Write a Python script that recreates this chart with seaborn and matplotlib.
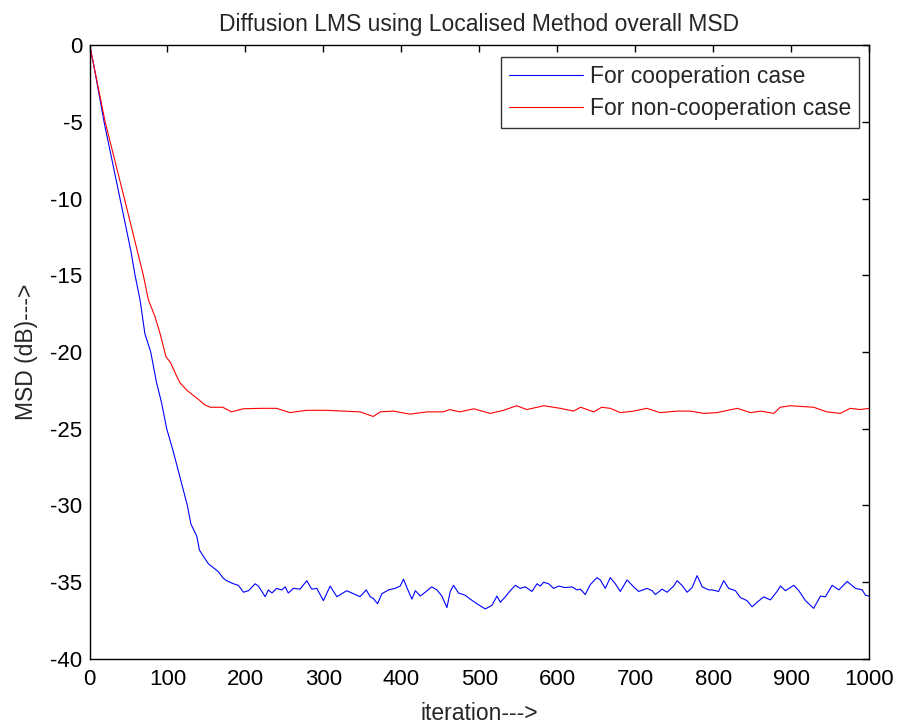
import numpy as np
import pandas as pd
import seaborn as sns
import matplotlib.pyplot as plt

# values (iteration, MSD in dB)
coop_iter = [0, 5, 18.6, 39, 52.8, 58.4, 64.8, 71, 78.5, 86, 92.6, 99, 107, 118, 125.5,
             130, 137.6, 141, 146, 152.5, 165, 171.8, 176, 184.6, 191, 197.4, 204, 212.5,
             216.7, 225.3, 229.5, 234, 240, 246.7, 251, 255, 261.6, 270, 278.8, 285, 291.6,
             300, 308.7, 317.3, 330, 338.6, 347, 355, 360, 364, 369.5, 375, 383.6, 392,
             398.6, 402.8, 408, 413.6, 418, 424.3, 430.7, 439, 445.7, 452, 458.5, 462.8,
             467, 473.4, 482, 488.4, 497, 507.7, 516.3, 522.7, 527, 533.4, 539.8, 546.2,
             552.6, 559, 567.6, 574, 578.3, 582.5, 589, 595.4, 601.8, 610.4, 619, 625.4,
             629.7, 636, 642.5, 651, 655.3, 661.7, 668, 674.6, 681, 689.6, 698, 704.5,
             715.3, 721.7, 726, 734.5, 741, 749.4, 753.8, 760, 766.6, 773, 779.5, 786,
             794.4, 798.7, 807, 813.6, 820, 828.6, 835, 843.6, 850, 856.5, 865, 873.5,
             882, 886.4, 892.8, 903.5, 910, 918.5, 929, 937.8, 944, 952.8, 961.3, 972,
             982.7, 991.3, 995.5, 1000]
coop_msd = [0, -1.2, -5, -10, -13.35, -15, -16.6, -18.8, -20, -22, -23.35, -25, -26.4, -28.55, -30,
            -31.2, -32, -32.9, -33.3, -33.8, -34.3, -34.75, -34.9, -35.1, -35.2, -35.65, -35.55, -35.1,
            -35.25, -35.94, -35.5, -35.7, -35.4, -35.5, -35.3, -35.7, -35.4, -35.45, -34.9, -35.45, -35.4,
            -36.2, -35.25, -35.94, -35.55, -35.75, -35.94, -35.5, -35.94, -36.05, -36.4, -35.75, -35.5, -35.4,
            -35.25, -34.8, -35.45, -36.1, -35.55, -35.9, -35.65, -35.3, -35.5, -35.9, -36.65, -35.6,
            -35.2, -35.7, -35.85, -36.1, -36.4, -36.74, -36.5, -35.9, -36.3, -35.95, -35.55, -35.2,
            -35.4, -35.3, -35.6, -35.1, -35.25, -35.0, -35.1, -35.4, -35.25, -35.35, -35.3, -35.5,
            -35.45, -35.8, -35.15, -34.7, -34.85, -35.4, -34.7, -35.1, -35.6, -34.85, -35.3, -35.6,
            -35.4, -35.55, -35.8, -35.45, -35.65, -35.25, -34.9, -35.2, -35.65, -35.35, -34.57, -35.3,
            -35.5, -35.5, -35.6, -34.9, -35.4, -35.55, -36.0, -36.2, -36.6, -36.3, -35.95, -36.15,
            -35.6, -35.25, -35.55, -35.2, -35.55, -36.2, -36.7, -35.9, -35.95, -35.2, -35.5, -34.95,
            -35.4, -35.5, -35.85, -35.9]

noncoop_iter = [0, 5, 20, 44.7, 61, 69, 75.5, 84, 90.5, 98, 104, 112, 116, 125, 140, 148, 155,
                171, 182, 197, 219, 240, 257, 278, 304, 347, 364, 373, 390, 411, 433, 454,
                462, 475, 493, 514, 531, 548, 561, 583, 604, 621, 630, 647, 657, 668, 681,
                698, 715, 732, 754, 771, 788, 805, 831, 848, 861, 878, 886, 899, 929, 946,
                963, 976, 989, 1000]
noncoop_msd = [0, -1.2, -5, -10, -13.35, -15, -16.6, -17.7, -18.8, -20.3, -20.7, -21.6, -22.0, -22.5,
               -23.1, -23.45, -23.6, -23.6, -23.9, -23.7, -23.67, -23.67, -23.95, -23.8, -23.8, -23.9,
               -24.2, -23.9, -23.85, -24.05, -23.9, -23.9, -23.75, -23.9, -23.7, -24.0, -23.8, -23.5,
               -23.75, -23.5, -23.67, -23.85, -23.6, -23.9, -23.6, -23.67, -23.95, -23.85, -23.67,
               -23.95, -23.85, -23.85, -24.0, -23.95, -23.67, -23.95, -23.85, -24.0, -23.6, -23.5,
               -23.6, -23.9, -24.0, -23.67, -23.75, -23.67]

labels = ['For cooperation case', 'For non-cooperation case']
title = 'Diffusion LMS using Localised Method overall MSD'
xlabel = 'iteration--->'
ylabel = 'MSD (dB)--->'
xticks = list(range(0, 1001, 100))
yticks = list(range(-40, 1, 5))

df = pd.concat([
    pd.DataFrame({'iter': coop_iter, 'msd': coop_msd, 'case': labels[0]}),
    pd.DataFrame({'iter': noncoop_iter, 'msd': noncoop_msd, 'case': labels[1]}),
])

sns.set_style('white')
plt.rcParams['font.family'] = ['Liberation Sans', 'DejaVu Sans']
plt.rcParams['axes.unicode_minus'] = False

fig = plt.figure(figsize=(8.98, 7.26), dpi=100)
ax = fig.add_axes([0.0997, 0.0923, 0.868, 0.8457])

sns.lineplot(data=df, x='iter', y='msd', hue='case', sort=False,
             palette={labels[0]: '#0000ff', labels[1]: '#ff0000'},
             linewidth=0.8, ax=ax)

ax.set_xlim(0, 1000)
ax.set_ylim(-40, 0)
ax.set_xticks(xticks)
ax.set_yticks(yticks)
ax.tick_params(direction='in', length=5, width=1, top=True, right=True,
               labelsize=16, colors='black')
ax.tick_params(axis='x', pad=7)
ax.tick_params(axis='y', pad=5)
for s in ax.spines.values():
    s.set_color('black')
    s.set_linewidth(1)

ax.set_title(title, fontsize=16.5, pad=10)
ax.set_xlabel(xlabel, fontsize=16.5, labelpad=9)
ax.set_ylabel(ylabel, fontsize=16.5, labelpad=9)

leg = ax.legend(loc='upper right', bbox_to_anchor=(0.987, 0.980), borderaxespad=0,
                fontsize=16.5, frameon=True, fancybox=False, edgecolor='black',
                handlelength=3.2, handletextpad=0.3, borderpad=0.35,
                labelspacing=0.4)
leg.get_frame().set_linewidth(1)

plt.savefig('out.png', dpi=100)
